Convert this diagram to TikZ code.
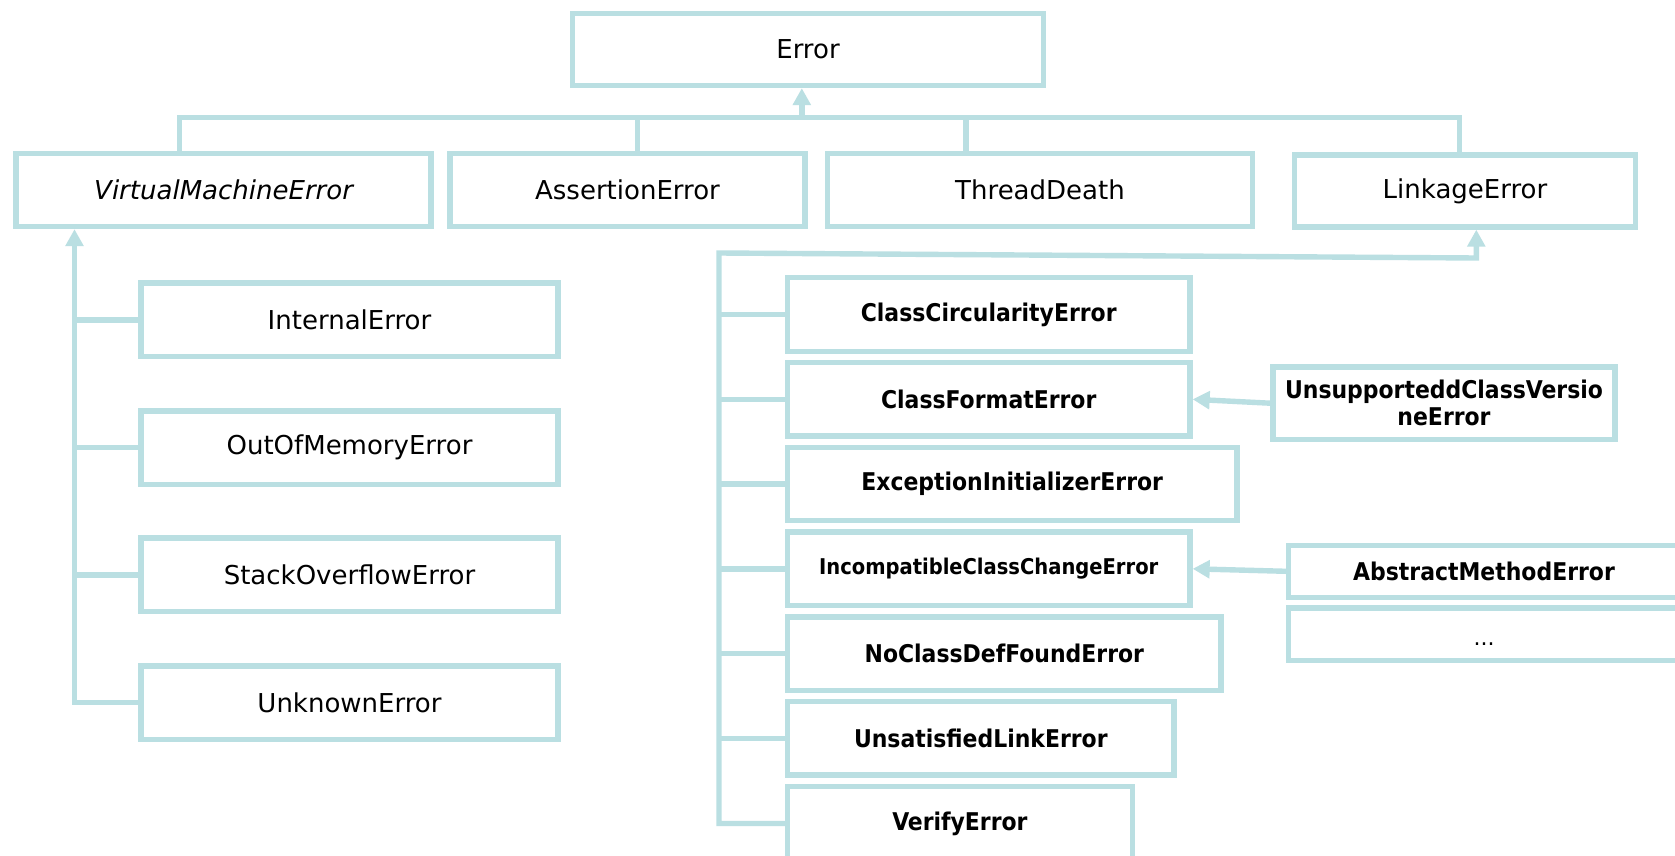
\documentclass[tikz,border=0pt]{standalone}
\usepackage{fontspec}
\setmainfont{DejaVu Sans}
\newfontfamily\condfont{DejaVu Sans Condensed}
\usetikzlibrary{arrows.meta}
\definecolor{linkcol}{RGB}{186,223,226}
\begin{document}
\begin{tikzpicture}[x=1pt,y=-1pt,
  box/.style={draw=linkcol, line width=5.4pt, inner sep=0pt, text=black, align=center},
  reg/.style={box, font=\fontsize{26}{31}\selectfont},
  bld/.style={box, font=\condfont\bfseries\fontsize{24.4}{27}\selectfont},
  wire/.style={draw=linkcol, line width=5.4pt},
  tipped/.style={wire, -{Triangle[width=17.5pt,length=17pt]}}
]
\clip (0,0) rectangle (1675,856);
\fill[white] (0,0) rectangle (1675,856);

% root and first level
\node[reg, minimum width=471.5pt, minimum height=72pt] (err) at (808,49.5) {Error};
\node[reg, minimum width=415pt, minimum height=73pt] (vme) at (223.6,190) {\itshape VirtualMachineError};
\node[reg, minimum width=355pt, minimum height=73pt] (asrt) at (627.5,190) {AssertionError};
\node[reg, minimum width=425pt, minimum height=73pt] (thd) at (1040,190) {ThreadDeath};
\node[reg, minimum width=341.5pt, minimum height=72pt] (link) at (1465,191) {LinkageError};

% VirtualMachineError subclasses
\node[reg, minimum width=417pt, minimum height=73.5pt] (int) at (349.5,319.8) {InternalError};
\node[reg, minimum width=417pt, minimum height=73.5pt] (oom) at (349.5,447.7) {OutOfMemoryError};
\node[reg, minimum width=417pt, minimum height=73.5pt] (sof) at (349.5,574.8) {StackOverflowError};
\node[reg, minimum width=417pt, minimum height=73.5pt] (unk) at (349.5,702.7) {UnknownError};

% LinkageError subclasses
\node[bld, minimum width=402.5pt, minimum height=73.5pt] (ccirc) at (988.7,314.5) {ClassCircularityError};
\node[bld, minimum width=402.5pt, minimum height=73.5pt] (cfmt) at (988.7,399.3) {ClassFormatError};
\node[bld, minimum width=449.4pt, minimum height=73.5pt] (exin) at (1012.2,484) {ExceptionInitializerError};
\node[bld, minimum width=402.5pt, minimum height=73.5pt, font=\condfont\bfseries\fontsize{21.7}{26}\selectfont] (icce) at (988.7,568.8) {IncompatibleClassChangeError};
\node[bld, minimum width=433.6pt, minimum height=73.5pt] (ncdf) at (1004.3,653.7) {NoClassDefFoundError};
\node[bld, minimum width=386.6pt, minimum height=73.5pt] (usl) at (980.8,738.2) {UnsatisfiedLinkError};
\node[bld, minimum width=344.8pt, minimum height=73.5pt] (ver) at (959.9,823.5) {VerifyError};

% further subclasses
\node[bld, minimum width=342.3pt, minimum height=72.2pt] (ucve) at (1444,403.2) {UnsupporteddClassVersio\\neError};
\node[bld, minimum width=390.5pt, minimum height=51.8pt] (ame) at (1484,571.3) {AbstractMethodError};
\node[box, minimum width=390.5pt, minimum height=52.8pt, font=\fontsize{22}{26}\selectfont,
      text height=22pt, text depth=0pt] (more) at (1484,634.2) {...};

% bus to Error
\coordinate (t1) at (179.5,117.3);
\coordinate (t2) at (637.6,117.3);
\coordinate (t3) at (966,117.3);
\coordinate (t4) at (1459.4,117.3);
\coordinate (tm) at (801.8,117.3);
\draw[wire] (t1 |- vme.north) -- (t1) -- (t4) -- (t4 |- link.north);
\draw[wire] (t2) -- (t2 |- asrt.north);
\draw[wire] (t3) -- (t3 |- thd.north);
\draw[tipped] (tm) -- (tm |- err.south);

% bus to VirtualMachineError
\coordinate (lb) at (74.5,702.7);
\draw[tipped] (unk.west) -- (lb) -- (lb |- vme.south);
\draw[wire] (lb |- int.west) -- (int.west);
\draw[wire] (lb |- oom.west) -- (oom.west);
\draw[wire] (lb |- sof.west) -- (sof.west);

% bus to LinkageError
\coordinate (rbb) at (719,823.5);
\coordinate (rbt) at (719,253);
\coordinate (rbc) at (1476.3,258);
\draw[tipped] (ver.west) -- (rbb) -- (rbt) -- (rbc) -- (rbc |- link.south);
\draw[wire] (rbb |- ccirc.west) -- (ccirc.west);
\draw[wire] (rbb |- cfmt.west) -- (cfmt.west);
\draw[wire] (rbb |- exin.west) -- (exin.west);
\draw[wire] (rbb |- icce.west) -- (icce.west);
\draw[wire] (rbb |- ncdf.west) -- (ncdf.west);
\draw[wire] (rbb |- usl.west) -- (usl.west);

% second-level arrows
\draw[tipped] (ucve.west) -- (cfmt.east);
\draw[tipped] (ame.west) -- (icce.east);
\end{tikzpicture}
\end{document}
